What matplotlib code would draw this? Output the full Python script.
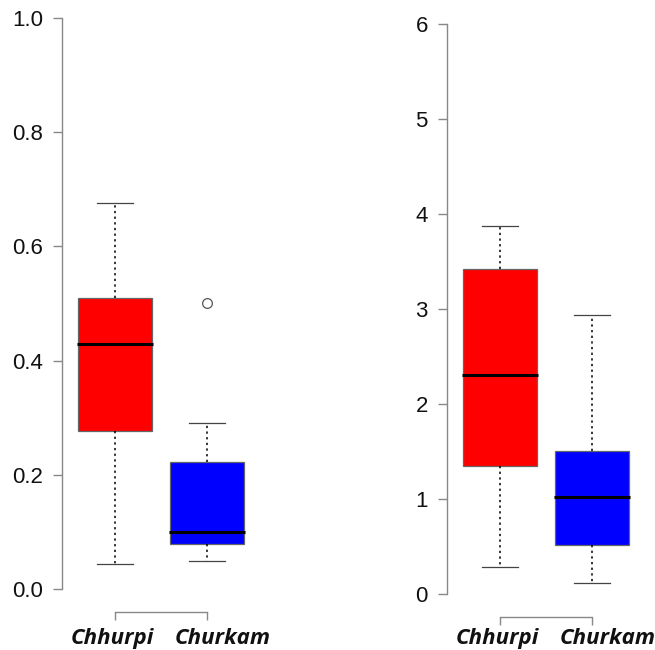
import matplotlib
matplotlib.use("Agg")
from matplotlib import pyplot as plt
from matplotlib import transforms

groups = ["Chhurpi", "Churkam"]
fills = ["#FF0000", "#0000FF"]

# left panel (five-number summaries)
left_whislo = [0.043, 0.049]
left_q1 = [0.277, 0.078]
left_med = [0.429, 0.100]
left_q3 = [0.510, 0.223]
left_whishi = [0.676, 0.290]
left_fliers = [[], [0.501]]
left_ticks = [0.0, 0.2, 0.4, 0.6, 0.8, 1.0]

# right panel
right_whislo = [0.284, 0.118]
right_q1 = [1.35, 0.515]
right_med = [2.30, 1.02]
right_q3 = [3.42, 1.50]
right_whishi = [3.87, 2.94]
right_fliers = [[], []]
right_ticks = [0, 1, 2, 3, 4, 5, 6]

plt.rcParams['font.family'] = ['Liberation Sans', 'DejaVu Sans']

fig = plt.figure(figsize=(6.55, 6.5), dpi=100)
ax1 = fig.add_axes([0.0940, 0.0588, 0.3034, 0.9486])
ax2 = fig.add_axes([0.6818, 0.0511, 0.3034, 0.9471])

# label shifts in pixels, the words sit a little off the ticks
label_dx = [-3, 16]


def draw(ax, lo, q1, med, q3, hi, fl, ticks, tlabels):
    stats = []
    for i in range(len(groups)):
        stats.append(dict(whislo=lo[i], q1=q1[i], med=med[i], q3=q3[i],
                          whishi=hi[i], fliers=fl[i], label=groups[i]))
    bp = ax.bxp(stats, positions=[1, 2], widths=0.8, patch_artist=True,
                showfliers=True,
                boxprops=dict(edgecolor="#666666", linewidth=0.9),
                medianprops=dict(color="black", linewidth=2.2),
                whiskerprops=dict(color="black", linewidth=1.1,
                                  linestyle=(0, (1.5, 2.2))),
                capprops=dict(color="#444444", linewidth=0.9),
                flierprops=dict(marker="o", markersize=7,
                                markerfacecolor="none",
                                markeredgecolor="#555555",
                                markeredgewidth=0.9))
    for patch, c in zip(bp["boxes"], fills):
        patch.set_facecolor(c)
    for cap in bp["caps"]:
        x = cap.get_xdata()
        mid = (x[0] + x[1]) / 2
        cap.set_xdata([mid - 0.2, mid + 0.2])
    for m in bp["medians"]:
        x = m.get_xdata()
        m.set_xdata([x[0] - 0.01, x[1] + 0.01])

    span = ticks[-1] - ticks[0]
    ax.set_xlim(0.42, 2.58)
    ax.set_ylim(ticks[0] - 0.04 * span, ticks[-1] + 0.04 * span)
    ax.set_yticks(ticks)
    ax.set_yticklabels(tlabels, fontsize=16, color="#111111")
    ax.set_xticks([1, 2])
    ax.set_xticklabels([])
    trans = transforms.blended_transform_factory(ax.transData, fig.transFigure)
    for i, g in enumerate(groups):
        off = transforms.ScaledTranslation(label_dx[i] / 100, 0, fig.dpi_scale_trans)
        ax.text(i + 1, 6 / 650, g, transform=trans + off, ha="center",
                va="baseline", fontsize=16, fontweight="bold",
                fontstyle="italic", family=["Open Sans", "DejaVu Sans"],
                color="#111111")
    for s in ["top", "right"]:
        ax.spines[s].set_visible(False)
    ax.spines["left"].set_bounds(ticks[0], ticks[-1])
    ax.spines["bottom"].set_bounds(1, 2)
    for s in ["left", "bottom"]:
        ax.spines[s].set_color("#888888")
        ax.spines[s].set_linewidth(1.0)
    ax.tick_params(axis="y", length=6.5, width=1.0, color="#888888", pad=7)
    ax.tick_params(axis="x", length=6, width=1.0, color="#888888", pad=3)


draw(ax1, left_whislo, left_q1, left_med, left_q3, left_whishi, left_fliers,
     left_ticks, ["%.1f" % t for t in left_ticks])
draw(ax2, right_whislo, right_q1, right_med, right_q3, right_whishi,
     right_fliers, right_ticks, [str(t) for t in right_ticks])

fig.savefig("out.png", dpi=100)
